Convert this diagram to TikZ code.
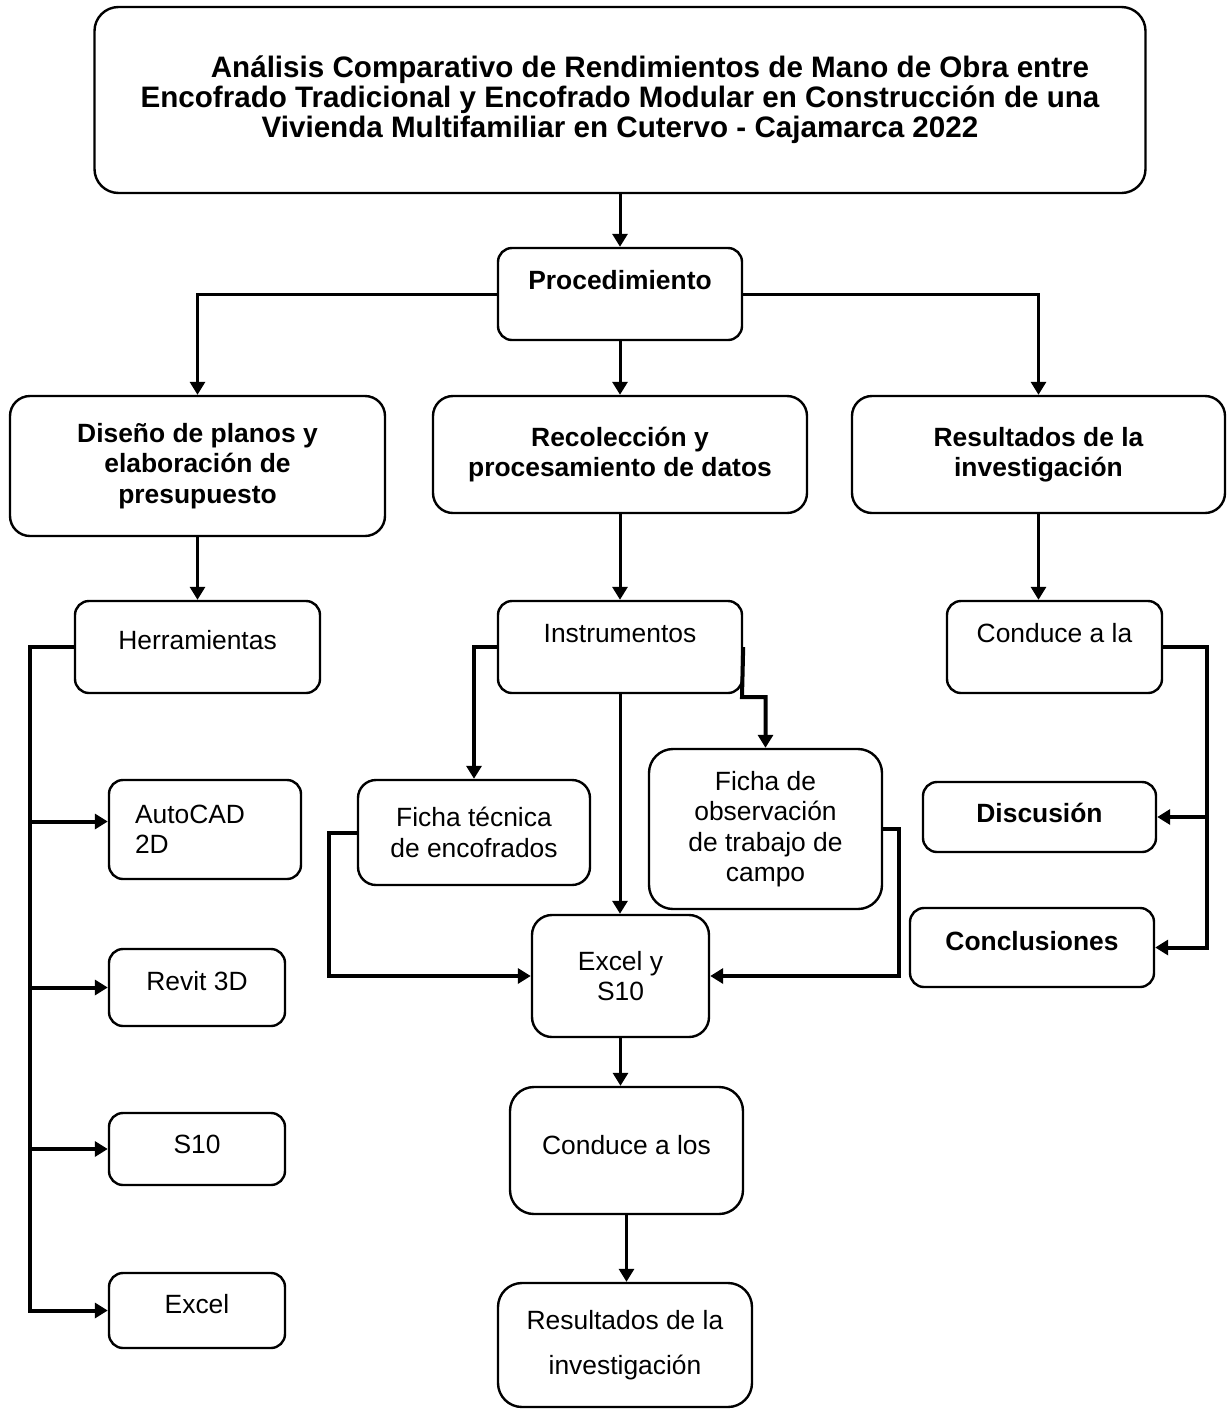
\documentclass[tikz,border=0pt]{standalone}
\usepackage{fontspec}
\setmainfont{Liberation Sans}
\usetikzlibrary{arrows.meta}

\begin{document}
\begin{tikzpicture}[x=0.5pt, y=-0.5pt]
    \tikzstyle{box}=[draw, line width=1.2pt, rounded corners=7pt, inner sep=0pt, align=center, font=\fontsize{13.2}{15.2}\selectfont]
    \tikzstyle{bbox}=[box, font=\fontsize{13.2}{15.2}\selectfont\bfseries]
    \tikzstyle{arr}=[line width=1.5pt, -{Triangle[length=6.5pt,width=7.5pt]}]
    \tikzstyle{link}=[line width=2pt]
    \useasboundingbox (0,0) rectangle (1227,1409);
    % title and first levels
    \node[bbox, rounded corners=12pt, minimum width=525.5pt, minimum height=93pt, font=\fontsize{14.8}{15}\selectfont\bfseries] (tit) at (620,100) {\hspace*{30pt}Análisis Comparativo de Rendimientos de Mano de Obra entre\\Encofrado Tradicional y Encofrado Modular en Construcción de una\\Vivienda Multifamiliar en Cutervo - Cajamarca 2022};
    \node[bbox, minimum width=122pt, minimum height=46pt, text depth=14pt] (proc) at (620,294) {Procedimiento};
    \node[bbox, rounded corners=10pt, minimum width=187.5pt, minimum height=70pt] (dis) at (197.5,466) {Diseño de planos y\\elaboración de\\presupuesto};
    \node[bbox, rounded corners=10pt, minimum width=187pt, minimum height=58.5pt] (rec) at (620,454.5) {Recolección y\\procesamiento de datos};
    \node[bbox, rounded corners=10pt, minimum width=186.5pt, minimum height=58.5pt] (res) at (1038.5,454.5) {Resultados de la\\investigación};
    \node[box, minimum width=122.5pt, minimum height=46pt, text depth=7pt] (herr) at (197.5,647) {Herramientas};
    \node[box, minimum width=122pt, minimum height=46pt, text depth=14pt] (inst) at (620,647) {Instrumentos};
    \node[box, minimum width=107.5pt, minimum height=46pt, text depth=14pt] (cla) at (1054.5,647) {Conduce a la};
    % tools
    \node[box, minimum width=96pt, minimum height=49.5pt, text width=70pt, align=left] (acad) at (205,829.5) {AutoCAD\\2D};
    \node[box, minimum width=88pt, minimum height=38.5pt, text depth=7pt] (rev) at (197,987.5) {Revit 3D};
    \node[box, minimum width=88pt, minimum height=36pt, text depth=5pt] (sdiez) at (197,1149) {S10};
    \node[box, minimum width=88pt, minimum height=37.5pt, text depth=7pt] (exc) at (197,1310.5) {Excel};
    % instruments
    \node[box, rounded corners=9pt, minimum width=116pt, minimum height=52.5pt] (ftec) at (474,832.5) {Ficha técnica\\de encofrados};
    \node[box, rounded corners=12pt, minimum width=116.5pt, minimum height=80pt] (fobs) at (765.5,829) {Ficha de\\observación\\de trabajo de\\campo};
    \node[box, rounded corners=10pt, minimum width=88.5pt, minimum height=61pt] (exs) at (620.5,976) {Excel y\\S10};
    \node[box, rounded corners=12pt, minimum width=116.5pt, minimum height=63.5pt, text depth=6pt] (clos) at (626.5,1150.5) {Conduce a los};
    \node[box, rounded corners=12pt, minimum width=127pt, minimum height=62pt, font=\fontsize{13.2}{22.5}\selectfont] (resb) at (625,1345) {Resultados de la\\investigación};
    % results
    \node[bbox, minimum width=116.5pt, minimum height=35pt, text depth=4pt] (disc) at (1039.5,817) {Discusión};
    \node[bbox, minimum width=122pt, minimum height=39.5pt, text depth=7pt] (concl) at (1032,947.5) {Conclusiones};
    \coordinate (ltrunk) at (30,647);
    \coordinate (rtrunk) at (1207,647);
    \coordinate (ibend) at (742,697);
    % connectors
    \draw[arr] (tit) -- (proc);
    \draw[arr] (proc.west) -| (dis.north);
    \draw[arr] (proc.east) -| (res.north);
    \draw[arr] (proc) -- (rec);
    \draw[arr] (dis) -- (herr);
    \draw[arr] (rec) -- (inst);
    \draw[arr] (res.south) -- (res.south |- cla.north);
    \draw[arr, link] (herr.west) -- (ltrunk) |- (exc.west);
    \draw[arr, link] ([yshift=4pt]acad.west -| ltrunk) -- ([yshift=4pt]acad.west);
    \draw[arr, link] (ltrunk |- rev.west) -- (rev.west);
    \draw[arr, link] (ltrunk |- sdiez.west) -- (sdiez.west);
    \draw[arr, link] (inst.west) -| (ftec.north);
    \draw[arr, link] (inst.east) -- (ibend) -| (fobs.north);
    \draw[arr] (inst.south) -- (inst.south |- exs.north);
    \draw[arr, link] (ftec.west) -- ++(-28,0) |- (exs.west);
    \draw[arr, link] (fobs.east) -- ++(16,0) |- (exs.east);
    \draw[arr] (exs.south) -- (exs.south |- clos.north);
    \draw[arr] (clos.south) -- (clos.south |- resb.north);
    \draw[arr, link] (cla.east) -| (rtrunk |- concl.east) -- (concl.east);
    \draw[arr, link] (rtrunk |- disc.east) -- (disc.east);
\end{tikzpicture}
\end{document}
